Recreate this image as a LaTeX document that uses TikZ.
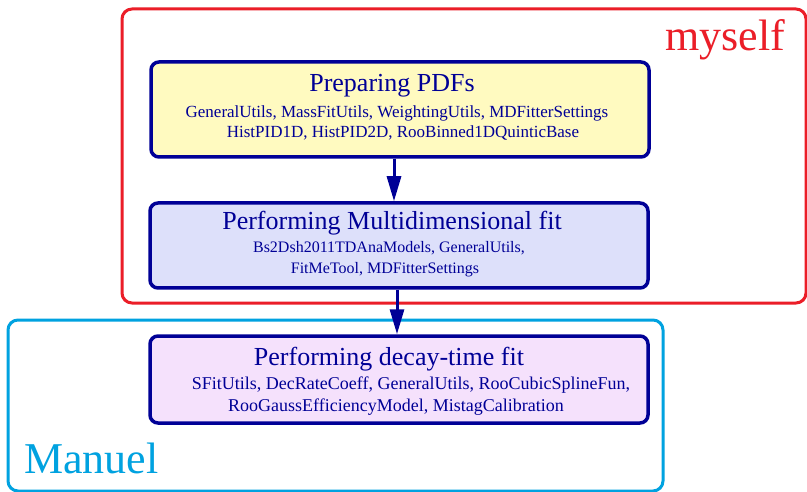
\documentclass[tikz,border=0pt]{standalone}
\usepackage{fontspec}
\setmainfont{Liberation Serif}
\usetikzlibrary{arrows.meta,calc}
\definecolor{navy}{RGB}{0,0,150}
\definecolor{myred}{RGB}{235,30,40}
\definecolor{mycyan}{RGB}{0,162,224}
\definecolor{fillA}{RGB}{255,250,192}
\definecolor{fillB}{RGB}{221,224,250}
\definecolor{fillC}{RGB}{245,225,252}
\tikzset{
  stagebox/.style={draw=navy, line width=3.5pt, rounded corners=8pt, minimum width=498pt, inner sep=0pt},
  grouprect/.style={line width=3pt, rounded corners=10pt},
  ttl/.style={text=navy, font=\fontsize{26}{30}\selectfont, anchor=base},
  sub/.style={text=navy, font=\fontsize{17}{20}\selectfont, anchor=base},
  subb/.style={text=navy, font=\fontsize{16}{19}\selectfont, anchor=base},
  subc/.style={text=navy, font=\fontsize{18}{21}\selectfont, anchor=base},
  flow/.style={draw=navy, line width=3pt, -{Triangle[length=25pt,width=14pt]}},
  who/.style={font=\fontsize{44}{50}\selectfont, anchor=base west, inner sep=0pt}
}
\begin{document}
\begin{tikzpicture}[x=1pt,y=-1pt]
\useasboundingbox (0,0) rectangle (807,492);
\fill[white] (0,0) rectangle (807,492);
% group frames
\draw[grouprect, draw=myred] (122,9) rectangle (806,303);
\draw[grouprect, draw=mycyan] (8,320) rectangle (663,491);
\node[who, text=myred] (me) at (665,51) {myself};
\node[who, text=mycyan] (man) at (24,473) {Manuel};
% stages
\node[stagebox, fill=fillA, minimum height=95pt] (b1) at (400,109.5) {};
\node[stagebox, fill=fillB, minimum height=85pt] (b2) at (399,245.5) {};
\node[stagebox, fill=fillC, minimum height=87pt] (b3) at (399,379.5) {};
% texts
\node[ttl] (t1) at (392,92) {Preparing PDFs};
\node[sub] (s1a) at (397,118) {GeneralUtils, MassFitUtils, WeightingUtils, MDFitterSettings};
\node[sub] (s1b) at (403,138) {HistPID1D, HistPID2D, RooBinned1DQuinticBase};
\node[ttl] (t2) at (392,230) {Performing Multidimensional fit};
\node[subb] (s2a) at (389,253) {Bs2Dsh2011TDAnaModels, GeneralUtils,};
\node[subb] (s2b) at (385,273) {FitMeTool, MDFitterSettings};
\node[ttl] (t3) at (389,365) {Performing decay-time fit};
\node[subc] (s3a) at (411,389) {SFitUtils, DecRateCoeff, GeneralUtils, RooCubicSplineFun,};
\node[subc] (s3b) at (396,411) {RooGaussEfficiencyModel, MistagCalibration};
% connectors
\draw[flow] ($(b1.south)+(-6,0)$) -- ($(b2.north)+(-5,0)$);
\draw[flow] ($(b2.south)+(-2,0)$) -- ($(b3.north)+(-2,0)$);
\end{tikzpicture}
\end{document}
